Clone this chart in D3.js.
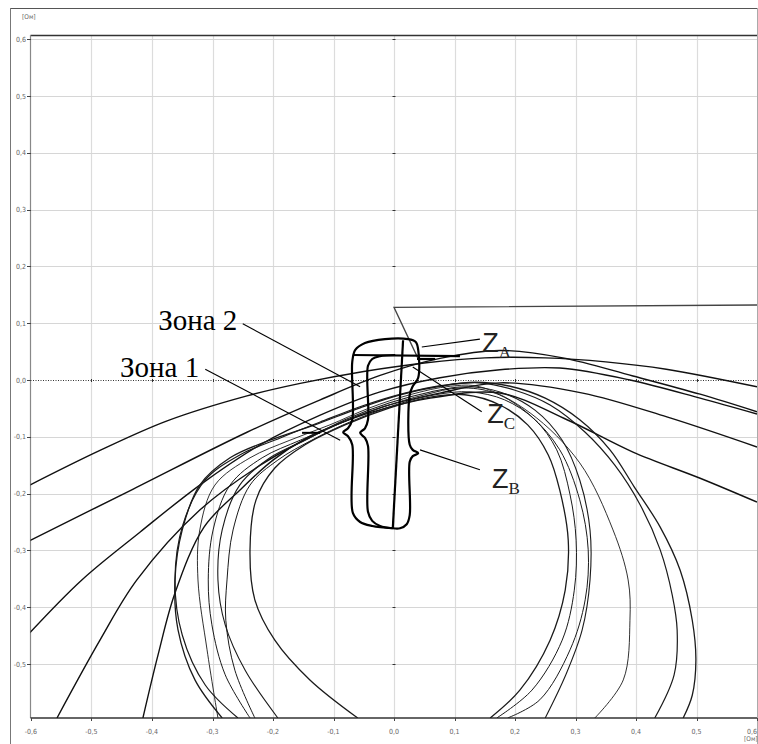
<!DOCTYPE html>
<html>
<head>
<meta charset="utf-8">
<script src="https://cdn.jsdelivr.net/npm/d3@7"></script>
<style>
  body { margin: 0; background: #fff; }
  svg { display: block; }
</style>
</head>
<body>
<svg id="chart" width="758" height="744"></svg>
<script>
// ---- axis ticks (Ом) ----
const xTicks = [-0.6, -0.5, -0.4, -0.3, -0.2, -0.1, 0.0, 0.1, 0.2, 0.3, 0.4, 0.5, 0.6];
const yTicks = [-0.5, -0.4, -0.3, -0.2, -0.1, 0.0, 0.1, 0.2, 0.3, 0.4, 0.5, 0.6];

// ---- impedance trajectories [R, X] in Ом ----
const swingW1 = [[-0.602,-0.185],[-0.486,-0.124],[-0.375,-0.072],[-0.243,-0.028],[-0.155,-0.006],[-0.050,0.015],[0.050,0.030],[0.150,0.039],[0.250,0.039],[0.350,0.032],[0.450,0.019],[0.600,-0.012]];
const swingW2 = [[-0.602,-0.283],[-0.431,-0.192],[-0.243,-0.092],[-0.122,-0.035],[-0.023,0.008],[0.076,0.038],[0.175,0.052],[0.279,0.039],[0.395,0.007],[0.506,-0.025],[0.600,-0.056]];
const swingW3 = [[-0.602,-0.445],[-0.516,-0.352],[-0.420,-0.268],[-0.321,-0.185],[-0.221,-0.114],[-0.122,-0.062],[-0.023,-0.021],[0.076,0.004],[0.175,0.018],[0.274,0.021],[0.390,0.000],[0.506,-0.032],[0.600,-0.060]];
const swingW4 = [[-0.557,-0.595],[-0.486,-0.458],[-0.425,-0.352],[-0.321,-0.229],[-0.221,-0.150],[-0.122,-0.092],[-0.023,-0.049],[0.076,-0.023],[0.175,-0.005],[0.312,-0.023],[0.451,-0.065],[0.600,-0.118]];
const swingW5 = [[-0.415,-0.595],[-0.390,-0.484],[-0.362,-0.375],[-0.314,-0.259],[-0.255,-0.194],[-0.200,-0.141],[-0.144,-0.102],[-0.089,-0.076],[-0.035,-0.056],[0.060,-0.032],[0.175,-0.023],[0.286,-0.070],[0.395,-0.127],[0.506,-0.173],[0.600,-0.215]];

const loop1 = [[-0.284,-0.595],[-0.329,-0.528],[-0.357,-0.440],[-0.362,-0.352],[-0.350,-0.264],[-0.321,-0.185],[-0.271,-0.137],[-0.205,-0.106],[-0.131,-0.079],[-0.056,-0.049],[0.010,-0.026],[0.076,-0.011],[0.134,-0.004],[0.192,-0.011],[0.250,-0.032],[0.307,-0.070],[0.357,-0.123],[0.397,-0.188],[0.440,-0.259],[0.473,-0.335],[0.493,-0.423],[0.499,-0.493],[0.493,-0.555],[0.478,-0.595]];
const loop2 = [[-0.258,-0.595],[-0.312,-0.537],[-0.350,-0.449],[-0.362,-0.352],[-0.349,-0.255],[-0.312,-0.176],[-0.255,-0.132],[-0.188,-0.102],[-0.122,-0.074],[-0.048,-0.044],[0.018,-0.023],[0.084,-0.009],[0.142,-0.005],[0.200,-0.018],[0.258,-0.044],[0.316,-0.092],[0.365,-0.150],[0.407,-0.220],[0.440,-0.299],[0.460,-0.379],[0.468,-0.440],[0.463,-0.519],[0.431,-0.595]];
const loop3 = [[-0.291,-0.595],[-0.309,-0.475],[-0.324,-0.352],[-0.321,-0.264],[-0.296,-0.185],[-0.238,-0.137],[-0.172,-0.106],[-0.106,-0.079],[-0.040,-0.049],[0.026,-0.026],[0.093,-0.011],[0.142,-0.012],[0.225,-0.058],[0.307,-0.146],[0.362,-0.264],[0.387,-0.352],[0.390,-0.423],[0.379,-0.528],[0.332,-0.595]];
const loop4 = [[-0.192,-0.595],[-0.246,-0.511],[-0.279,-0.431],[-0.291,-0.352],[-0.284,-0.264],[-0.255,-0.185],[-0.205,-0.137],[-0.147,-0.106],[-0.081,-0.070],[-0.007,-0.040],[0.060,-0.021],[0.117,-0.012],[0.175,-0.021],[0.233,-0.053],[0.278,-0.106],[0.307,-0.176],[0.324,-0.264],[0.324,-0.352],[0.311,-0.440],[0.284,-0.519],[0.250,-0.595]];
const loop5 = [[-0.230,-0.595],[-0.263,-0.511],[-0.278,-0.423],[-0.276,-0.352],[-0.266,-0.264],[-0.238,-0.185],[-0.192,-0.141],[-0.136,-0.106],[-0.073,-0.074],[0.002,-0.044],[0.068,-0.026],[0.126,-0.021],[0.183,-0.035],[0.233,-0.070],[0.269,-0.123],[0.291,-0.202],[0.301,-0.282],[0.298,-0.370],[0.278,-0.458],[0.228,-0.546],[0.170,-0.595]];
const loop6 = [[-0.060,-0.595],[-0.139,-0.528],[-0.197,-0.458],[-0.230,-0.387],[-0.238,-0.299],[-0.228,-0.211],[-0.197,-0.155],[-0.147,-0.114],[-0.081,-0.079],[-0.007,-0.049],[0.060,-0.030],[0.117,-0.026],[0.175,-0.044],[0.221,-0.079],[0.255,-0.132],[0.274,-0.194],[0.288,-0.282],[0.283,-0.370],[0.258,-0.458],[0.208,-0.546],[0.159,-0.595]];
const loop7 = [[-0.238,-0.595],[-0.279,-0.519],[-0.301,-0.431],[-0.307,-0.352],[-0.299,-0.264],[-0.271,-0.185],[-0.218,-0.137],[-0.155,-0.106],[-0.089,-0.076],[-0.020,-0.048],[0.051,-0.026],[0.109,-0.014],[0.167,-0.023],[0.225,-0.062],[0.274,-0.123],[0.307,-0.211],[0.321,-0.299],[0.316,-0.387],[0.291,-0.475],[0.241,-0.563],[0.188,-0.595]];

// ---- relay zone characteristics [R, X] ----
const zone2Outline = [[-0.002,-0.261],[-0.036,-0.257],[-0.056,-0.250],[-0.068,-0.234],[-0.069,-0.114],[-0.076,-0.099],[-0.084,-0.092],[-0.076,-0.085],[-0.069,-0.070],[-0.069,0.032],[-0.064,0.053],[-0.048,0.065],[-0.015,0.072],[0.023,0.072],[0.036,0.067],[0.040,0.053],[0.040,0.004],[0.031,-0.011],[0.026,-0.026],[0.026,-0.114],[0.031,-0.123],[0.040,-0.129],[0.031,-0.134],[0.026,-0.144],[0.026,-0.238],[0.021,-0.254],[0.010,-0.261],[-0.002,-0.261]];
const zone1Outline = [[-0.002,-0.261],[-0.023,-0.257],[-0.036,-0.248],[-0.043,-0.232],[-0.043,-0.116],[-0.048,-0.102],[-0.056,-0.093],[-0.048,-0.085],[-0.043,-0.070],[-0.043,0.025],[-0.036,0.037],[-0.023,0.042],[0.002,0.044]];
const lineImpedance = [[-0.002,-0.261],[0.015,0.070]];
const reachLine = [[-0.068,0.044],[0.109,0.042]];
const reachStub = [[0.038,0.037],[0.068,0.037]];
const loadLimit = [[0.041,0.035],[0.0,0.128],[0.6,0.132]];

// ---- annotations ----
const zoneLabels = ["Зона 2", "Зона 1"];
const zoneLeaderFrom = [[-0.250,0.099],[-0.312,0.019]];
const zoneLeaderTo = [[-0.056,-0.012],[-0.089,-0.106]];
const zoneLabelAt = [[-0.259,0.088],[-0.322,0.005]];

const zNames = ["A", "C", "B"];
const zLeaderFrom = [[0.046,0.058],[0.031,0.023],[0.043,-0.123]];
const zLeaderTo = [[0.142,0.072],[0.145,-0.056],[0.142,-0.158]];
const zLabelAt = [[0.146,0.049],[0.154,-0.076],[0.162,-0.190]];
const stubMark = [[-0.152,-0.093],[-0.122,-0.093]];

// ---- layout ----
const svg = d3.select("#chart");
const plot = { left: 30.5, right: 757, top: 35, bottom: 718 };
const x = d3.scaleLinear().domain([-0.6, 0.6]).range([31, 757]);
const y = d3.scaleLinear().domain([-0.6, 0.6]).range([720.8, 39.2]);
const fmt = v => (v < -1e-9 ? "-" : "") + Math.abs(v).toFixed(1).replace(".", ",");

// outer frame
svg.append("line").attr("x1", 10).attr("x2", 757).attr("y1", 8.5).attr("y2", 8.5)
  .attr("stroke", "#555").attr("stroke-width", 1);
svg.append("line").attr("x1", 10.5).attr("x2", 10.5).attr("y1", 8).attr("y2", 744)
  .attr("stroke", "#777").attr("stroke-width", 1);
svg.append("line").attr("x1", 757.5).attr("x2", 757.5).attr("y1", 8).attr("y2", 744)
  .attr("stroke", "#aaa").attr("stroke-width", 1);

svg.append("defs").append("clipPath").attr("id", "plotClip")
  .append("rect").attr("x", plot.left).attr("y", plot.top)
  .attr("width", plot.right - plot.left).attr("height", plot.bottom - plot.top);

// grid
const grid = svg.append("g");
grid.selectAll(".gx").data(xTicks.filter(v => v > -0.6 && v < 0.6)).join("line")
  .attr("x1", d => Math.round(x(d)) + 0.5).attr("x2", d => Math.round(x(d)) + 0.5)
  .attr("y1", plot.top).attr("y2", plot.bottom)
  .attr("stroke", "#dcdcdc").attr("stroke-width", 1.2);
grid.selectAll(".gy").data(yTicks.filter(v => Math.abs(v) > 1e-9)).join("line")
  .attr("x1", plot.left).attr("x2", plot.right)
  .attr("y1", d => Math.round(y(d)) + 0.5).attr("y2", d => Math.round(y(d)) + 0.5)
  .attr("stroke", "#d6d6d6").attr("stroke-width", 1.2);
// zero line (dotted)
grid.append("line").attr("x1", plot.left).attr("x2", plot.right)
  .attr("y1", y(0) + 0.5).attr("y2", y(0) + 0.5)
  .attr("stroke", "#333").attr("stroke-width", 1).attr("stroke-dasharray", "1,1.5");
// small marks along the R = 0 and X = 0 axes
grid.selectAll(".my").data(yTicks.filter(v => Math.abs(v) > 1e-9)).join("line")
  .attr("x1", x(0) - 1.5).attr("x2", x(0) + 1.5)
  .attr("y1", d => Math.round(y(d)) + 0.5).attr("y2", d => Math.round(y(d)) + 0.5)
  .attr("stroke", "#333").attr("stroke-width", 1);
grid.selectAll(".mx").data(xTicks.filter(v => v > -0.6 && v < 0.6)).join("line")
  .attr("x1", d => Math.round(x(d)) + 0.5).attr("x2", d => Math.round(x(d)) + 0.5)
  .attr("y1", y(0) - 1).attr("y2", y(0) + 2)
  .attr("stroke", "#333").attr("stroke-width", 1);

// plot borders
svg.append("line").attr("x1", plot.left).attr("x2", plot.right).attr("y1", plot.top + 0.5).attr("y2", plot.top + 0.5)
  .attr("stroke", "#333").attr("stroke-width", 1.5);
svg.append("line").attr("x1", plot.left).attr("x2", plot.left).attr("y1", plot.top).attr("y2", plot.bottom)
  .attr("stroke", "#888").attr("stroke-width", 1.2);
svg.append("line").attr("x1", plot.left).attr("x2", plot.right).attr("y1", plot.bottom).attr("y2", plot.bottom)
  .attr("stroke", "#333").attr("stroke-width", 1.5);

// axes
const tickFont = "'DejaVu Sans Condensed', 'DejaVu Sans', sans-serif";
const yAxis = svg.append("g");
yAxis.selectAll("text").data(yTicks).join("text")
  .attr("x", 26).attr("y", d => y(d) + 2.5)
  .attr("text-anchor", "end").attr("font-family", tickFont).attr("font-size", 7)
  .attr("fill", "#666").text(fmt);
yAxis.selectAll("line").data(yTicks).join("line")
  .attr("x1", 27).attr("x2", 31).attr("y1", d => Math.round(y(d)) + 0.5).attr("y2", d => Math.round(y(d)) + 0.5)
  .attr("stroke", "#444").attr("stroke-width", 1);
const xAxis = svg.append("g");
xAxis.selectAll("text").data(xTicks).join("text")
  .attr("x", d => d >= 0.6 ? 757 : x(d)).attr("y", 734)
  .attr("text-anchor", d => d >= 0.6 ? "end" : "middle")
  .attr("font-family", tickFont).attr("font-size", 7)
  .attr("fill", "#666").text(fmt);
xAxis.selectAll("line").data(xTicks).join("line")
  .attr("x1", d => Math.round(x(d)) + 0.5).attr("x2", d => Math.round(x(d)) + 0.5)
  .attr("y1", plot.bottom).attr("y2", plot.bottom + 3)
  .attr("stroke", "#444").attr("stroke-width", 1);
svg.append("text").attr("x", 22).attr("y", 19).attr("font-family", tickFont)
  .attr("font-size", 6.5).attr("fill", "#666").text("[Ом]");
svg.append("text").attr("x", 744).attr("y", 741).attr("font-family", tickFont)
  .attr("font-size", 6.5).attr("fill", "#666").text("[Ом]");

// trajectories
const smooth = d3.line().x(d => x(d[0])).y(d => y(d[1])).curve(d3.curveCatmullRom.alpha(0.5));
const straight = d3.line().x(d => x(d[0])).y(d => y(d[1]));
const curves = svg.append("g").attr("clip-path", "url(#plotClip)").attr("fill", "none");

[swingW1, swingW2, swingW3, swingW4, swingW5].forEach(c =>
  curves.append("path").attr("d", smooth(c)).attr("stroke", "#111").attr("stroke-width", 1.4));
[[loop1, 1.3], [loop2, 1.2], [loop3, 0.9], [loop4, 1.1], [loop5, 1.0], [loop6, 1.3], [loop7, 1.0]].forEach(([c, w]) =>
  curves.append("path").attr("d", smooth(c)).attr("stroke", "#1a1a1a").attr("stroke-width", w));

// limit line
curves.append("path").attr("d", straight(loadLimit)).attr("stroke", "#444").attr("stroke-width", 1.3);

// relay zones
const zoneLine = d3.line().x(d => x(d[0])).y(d => y(d[1])).curve(d3.curveCatmullRom.alpha(0.5));
curves.append("path").attr("d", zoneLine(zone2Outline)).attr("stroke", "#000").attr("stroke-width", 2.2);
curves.append("path").attr("d", zoneLine(zone1Outline)).attr("stroke", "#000").attr("stroke-width", 2.2);
curves.append("path").attr("d", straight(lineImpedance)).attr("stroke", "#000").attr("stroke-width", 2.2);
curves.append("path").attr("d", straight(reachLine)).attr("stroke", "#000").attr("stroke-width", 2.2);
curves.append("path").attr("d", straight(reachStub)).attr("stroke", "#000").attr("stroke-width", 2.2);
curves.append("path").attr("d", straight(stubMark)).attr("stroke", "#000").attr("stroke-width", 2);

// annotations
const notes = svg.append("g");
zoneLabels.forEach((t, i) => {
  notes.append("line")
    .attr("x1", x(zoneLeaderFrom[i][0])).attr("y1", y(zoneLeaderFrom[i][1]))
    .attr("x2", x(zoneLeaderTo[i][0])).attr("y2", y(zoneLeaderTo[i][1]))
    .attr("stroke", "#000").attr("stroke-width", 1.1);
  notes.append("text").attr("x", x(zoneLabelAt[i][0])).attr("y", y(zoneLabelAt[i][1]))
    .attr("text-anchor", "end").attr("font-family", "'Liberation Serif', 'Times New Roman', serif")
    .attr("font-size", 29).attr("fill", "#000").text(t);
});
zNames.forEach((t, i) => {
  notes.append("line")
    .attr("x1", x(zLeaderFrom[i][0])).attr("y1", y(zLeaderFrom[i][1]))
    .attr("x2", x(zLeaderTo[i][0])).attr("y2", y(zLeaderTo[i][1]))
    .attr("stroke", "#000").attr("stroke-width", 1.1);
  const tx = notes.append("text").attr("x", x(zLabelAt[i][0])).attr("y", y(zLabelAt[i][1]))
    .attr("font-family", "'Liberation Sans', Arial, sans-serif").attr("font-size", 27)
    .attr("font-weight", 300).attr("fill", "#222");
  tx.append("tspan").text("Z");
  tx.append("tspan").attr("dy", 6).attr("font-size", 17)
    .attr("font-family", "'Liberation Serif', 'Times New Roman', serif").text(t);
});
</script>
</body>
</html>
